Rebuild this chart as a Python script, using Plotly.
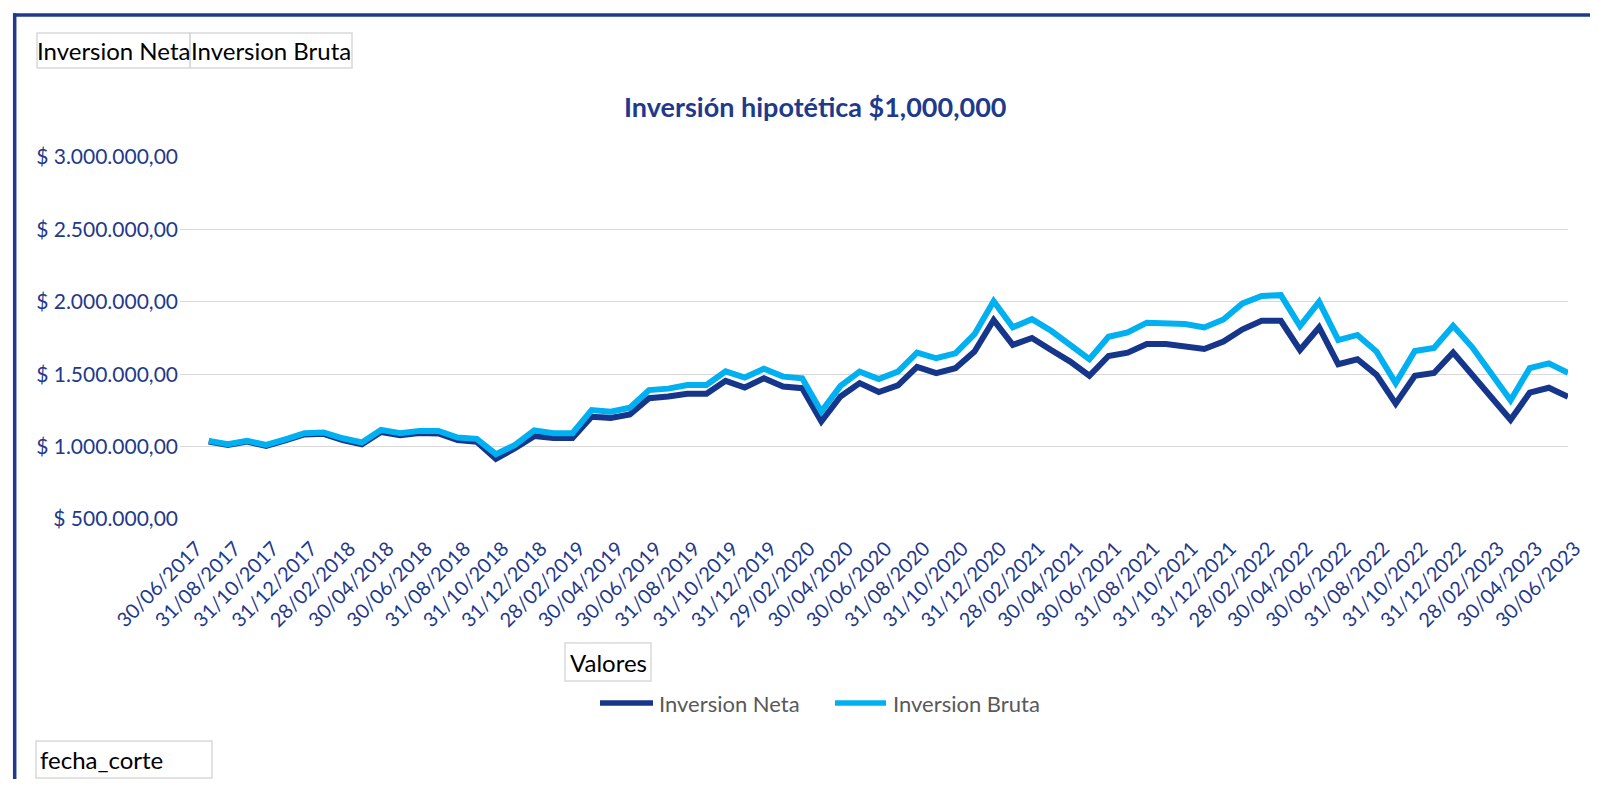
import plotly.graph_objects as go

# ---------------- data ----------------
fechas = [
    "30/06/2017", "31/07/2017", "31/08/2017", "30/09/2017", "31/10/2017", "30/11/2017", "31/12/2017",
    "31/01/2018", "28/02/2018", "31/03/2018", "30/04/2018", "31/05/2018", "30/06/2018",
    "31/07/2018", "31/08/2018", "30/09/2018", "31/10/2018", "30/11/2018", "31/12/2018",
    "31/01/2019", "28/02/2019", "31/03/2019", "30/04/2019", "31/05/2019", "30/06/2019",
    "31/07/2019", "31/08/2019", "30/09/2019", "31/10/2019", "30/11/2019", "31/12/2019",
    "31/01/2020", "29/02/2020", "31/03/2020", "30/04/2020", "31/05/2020", "30/06/2020",
    "31/07/2020", "31/08/2020", "30/09/2020", "31/10/2020", "30/11/2020", "31/12/2020",
    "31/01/2021", "28/02/2021", "31/03/2021", "30/04/2021", "31/05/2021", "30/06/2021",
    "31/07/2021", "31/08/2021", "30/09/2021", "31/10/2021", "30/11/2021", "31/12/2021",
    "31/01/2022", "28/02/2022", "31/03/2022", "30/04/2022", "31/05/2022", "30/06/2022",
    "31/07/2022", "31/08/2022", "30/09/2022", "31/10/2022", "30/11/2022", "31/12/2022",
    "31/01/2023", "28/02/2023", "31/03/2023", "30/04/2023", "31/05/2023", "30/06/2023",
]

inversion_neta = [
    None, 1035000, 1010000, 1034000, 1005000, 1042000, 1083000, 1088000, 1045000, 1015000,
    1100000, 1078000, 1093000, 1090000, 1045000, 1033000, 915000, 988000, 1072000, 1058000,
    1058000, 1205000, 1198000, 1222000, 1334000, 1346000, 1364000, 1364000, 1454000, 1408000,
    1472000, 1415000, 1403000, 1174000, 1346000, 1438000, 1377000, 1423000, 1550000, 1507000,
    1541000, 1656000, 1874000, 1702000, 1750000, 1667000, 1587000, 1489000, 1626000, 1649000,
    1709000, 1709000, 1695000, 1674000, 1725000, 1810000, 1869000, 1869000, 1667000, 1823000,
    1569000, 1603000, 1495000, 1296000, 1489000, 1508000, 1650000, 1495000, 1338000, 1185000,
    1372000, 1406000, 1344000,
]

inversion_bruta = [
    None, 1039000, 1016000, 1039000, 1011000, 1050000, 1092000, 1097000, 1057000, 1028000,
    1115000, 1092000, 1108000, 1108000, 1062000, 1053000, 947000, 1011000, 1112000, 1092000,
    1092000, 1252000, 1240000, 1268000, 1390000, 1400000, 1425000, 1425000, 1520000, 1477000,
    1538000, 1483000, 1471000, 1241000, 1419000, 1517000, 1466000, 1518000, 1649000, 1610000,
    1644000, 1776000, 2004000, 1824000, 1880000, 1800000, 1702000, 1603000, 1759000, 1789000,
    1856000, 1856000, 1846000, 1823000, 1878000, 1989000, 2041000, 2046000, 1833000, 2000000,
    1736000, 1771000, 1656000, 1438000, 1660000, 1681000, 1834000, 1686000, 1495000, 1320000,
    1542000, 1575000, 1510000,
]

x_tick_labels = fechas[::2]

y_tick_values = [500000, 1000000, 1500000, 2000000, 2500000, 3000000]
y_tick_labels = ["$ 500.000,00", "$ 1.000.000,00", "$ 1.500.000,00",
                 "$ 2.000.000,00", "$ 2.500.000,00", "$ 3.000.000,00"]

series_names = ["Inversion Neta", "Inversion Bruta"]
title_text = "Inversión hipotética $1,000,000"

# ---------------- styling ----------------
W, H = 1590, 771                      # page body has an 8px margin
PL, PR, PT, PB = 172, 1560, 149, 511  # plot area in figure pixels
NAVY = "#1F3A8C"
NETA_COLOR = "#16368C"
BRUTA_COLOR = "#00B0F0"
GRID = "#D9D9D9"
FONT = "Lato"


def px(x):
    return (x - PL) / (PR - PL)


def py(y):
    return (PB - y) / (PB - PT)


fig = go.Figure()
fig.add_trace(go.Scatter(x=fechas, y=inversion_neta, mode="lines", name=series_names[0],
                         line=dict(color=NETA_COLOR, width=6), connectgaps=False))
fig.add_trace(go.Scatter(x=fechas, y=inversion_bruta, mode="lines", name=series_names[1],
                         line=dict(color=BRUTA_COLOR, width=6), connectgaps=False))

shapes = []
annotations = []

# outer frame (left and top edges)
shapes.append(dict(type="line", xref="paper", yref="paper", x0=px(6.7), x1=px(6.7),
                   y0=py(5.3), y1=py(H), line=dict(color=NAVY, width=3.5), layer="above"))
shapes.append(dict(type="line", xref="paper", yref="paper", x0=px(5), x1=px(W),
                   y0=py(7), y1=py(7), line=dict(color=NAVY, width=3.5), layer="above"))


def box(x0, x1, y0, y1, text, tx, anchor="center", size=24):
    shapes.append(dict(type="rect", xref="paper", yref="paper", x0=px(x0), x1=px(x1),
                       y0=py(y1), y1=py(y0), line=dict(color=GRID, width=1.5),
                       fillcolor="rgba(0,0,0,0)", layer="above"))
    annotations.append(dict(xref="paper", yref="paper", x=px(tx), y=py((y0 + y1) / 2),
                            text=text, showarrow=False, xanchor=anchor, yanchor="middle",
                            font=dict(family=FONT, size=size, color="#000000")))


box(29, 182, 25, 60, series_names[0], 105.5)
box(182, 344, 25, 60, series_names[1], 263)
box(557, 643, 635, 673, "Valores", 600)
box(28, 204, 733, 770, "fecha_corte", 30, anchor="left")

# title
annotations.append(dict(xref="paper", yref="paper", x=px(807), y=py(98), text="<b>%s</b>" % title_text,
                        showarrow=False, xanchor="center", yanchor="middle",
                        font=dict(family=FONT, size=27, color=NAVY)))

# legend (drawn manually to match long line samples)
leg_y = 695
for name, color, lx0, lx1, tx in [(series_names[0], NETA_COLOR, 592, 645, 649),
                                  (series_names[1], BRUTA_COLOR, 827, 878, 883)]:
    shapes.append(dict(type="line", xref="paper", yref="paper", x0=px(lx0), x1=px(lx1),
                       y0=py(leg_y), y1=py(leg_y), line=dict(color=color, width=5.5), layer="above"))
    annotations.append(dict(xref="paper", yref="paper", x=px(tx), y=py(leg_y), text=name,
                            showarrow=False, xanchor="left", yanchor="middle",
                            font=dict(family=FONT, size=22, color="#595959")))

fig.update_layout(
    width=W, height=H,
    margin=dict(l=PL, r=W - PR, t=PT, b=H - PB, autoexpand=False),
    paper_bgcolor="white", plot_bgcolor="white",
    showlegend=False,
    shapes=shapes, annotations=annotations,
    font=dict(family=FONT),
    xaxis=dict(type="category", range=[-0.5, len(fechas) - 1.0], tickmode="array",
               tickvals=x_tick_labels, ticktext=x_tick_labels, tickangle=-45,
               showgrid=False, showline=False, zeroline=False, ticks="",
               ticklabelstandoff=13, ticklabelshift=7,
               tickfont=dict(family=FONT, size=20, color=NAVY)),
    yaxis=dict(range=[499000, 3001000], tickmode="array", tickvals=y_tick_values,
               ticktext=y_tick_labels, showgrid=True, gridcolor=GRID, gridwidth=1.3,
               showline=False, zeroline=False, ticks="", ticklabelstandoff=1,
               tickfont=dict(family=FONT, size=21, color=NAVY)),
)

fig.write_html("out.html")
